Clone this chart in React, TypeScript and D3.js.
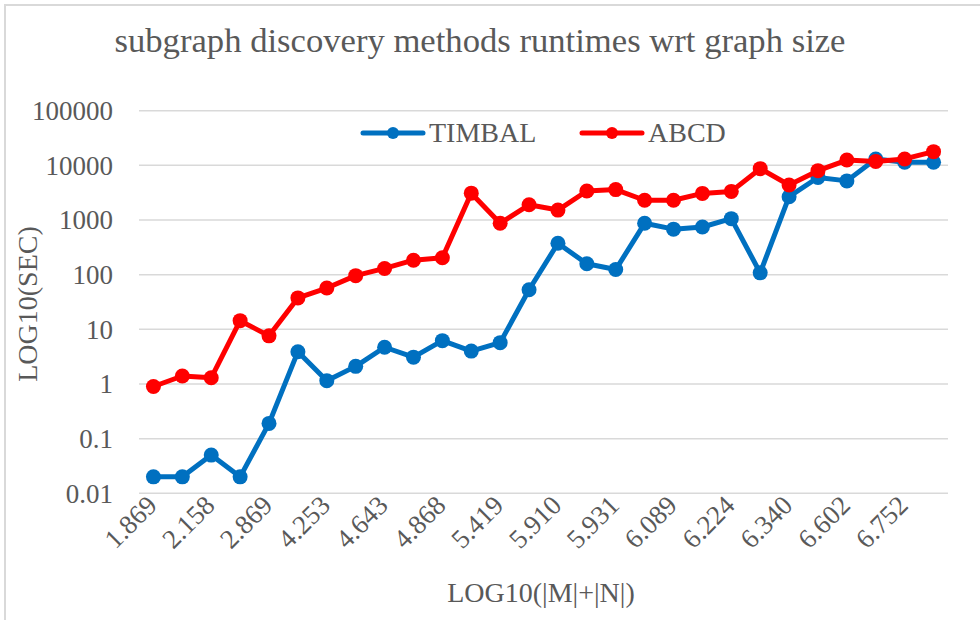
import React, { useEffect, useRef } from 'react';
import * as d3 from 'd3';

// tick labels visible on the x axis (every other category)
const xTickLabels = ['1.869', '2.158', '2.869', '4.253', '4.643', '4.868', '5.419',
  '5.910', '5.931', '6.089', '6.224', '6.340', '6.602', '6.752'];

// runtimes in seconds, one per graph (28 graphs)
const timbal = [0.02, 0.02, 0.05, 0.02, 0.19, 3.9, 1.15, 2.1, 4.7, 3.1, 6.2, 4.0, 5.7, 53,
  375, 158, 124, 870, 680, 745, 1060, 108, 2670, 6000, 5200, 13100, 11400, 11400];
const abcd = [0.9, 1.4, 1.3, 14.4, 7.6, 37.6, 57, 96, 130, 184, 204, 3100, 870, 1900,
  1520, 3390, 3600, 2300, 2300, 3070, 3340, 8700, 4370, 8000, 12500, 11800, 13100, 17800];

const yTicks = [0.01, 0.1, 1, 10, 100, 1000, 10000, 100000];

const seriesList = [
  { name: 'TIMBAL', values: timbal, color: '#0070C0' },
  { name: 'ABCD', values: abcd, color: '#FF0000' },
];

function App() {
  const ref = useRef<SVGSVGElement>(null);

  useEffect(() => {
    const width = 980, height = 620;
    const font = '"Liberation Serif", "Times New Roman", serif';
    const textColor = '#595959';
    const svg = d3.select(ref.current);
    svg.selectAll('*').remove();

    svg.append('rect').attr('width', width).attr('height', height).attr('fill', '#fff');
    // chart border (only top/left visible in crop)
    svg.append('rect').attr('x', 5).attr('y', 5).attr('width', 1200).attr('height', 1200)
      .attr('fill', 'none').attr('stroke', '#d9d9d9').attr('stroke-width', 2);

    const left = 139, right = 948, top = 110.7, bottom = 493.3;

    const n = timbal.length;
    const x = d3.scalePoint<number>().domain(d3.range(n)).range([left, right]).padding(0.5);
    const y = d3.scaleLog().domain([0.01, 100000]).range([bottom, top]);

    // title
    svg.append('text').attr('x', 480).attr('y', 52).attr('text-anchor', 'middle')
      .attr('font-family', font).attr('font-size', 34).attr('fill', textColor)
      .attr('textLength', 731).attr('lengthAdjust', 'spacingAndGlyphs')
      .text('subgraph discovery methods runtimes wrt graph size');

    // gridlines
    svg.append('g').selectAll('line').data(yTicks).enter().append('line')
      .attr('x1', left).attr('x2', right)
      .attr('y1', d => y(d)).attr('y2', d => y(d))
      .attr('stroke', '#d9d9d9').attr('stroke-width', 1.5);

    // y tick labels
    svg.append('g').selectAll('text').data(yTicks).enter().append('text')
      .attr('x', 113).attr('y', d => y(d)).attr('dy', '0.35em')
      .attr('text-anchor', 'end').attr('font-family', font).attr('font-size', 27)
      .attr('fill', textColor).text(d => String(d));

    // x tick labels
    svg.append('g').selectAll('text').data(xTickLabels).enter().append('text')
      .attr('transform', (d, i) => `translate(${(x(i * 2) as number) + 5},${507}) rotate(-45)`)
      .attr('text-anchor', 'end').attr('font-family', font).attr('font-size', 27)
      .attr('fill', textColor).text(d => d);

    // axis titles
    svg.append('text').attr('x', 541).attr('y', 602).attr('text-anchor', 'middle')
      .attr('font-family', font).attr('font-size', 28).attr('fill', textColor)
      .text('LOG10(|M|+|N|)');
    svg.append('text').attr('transform', 'translate(37,304) rotate(-90)')
      .attr('text-anchor', 'middle').attr('font-family', font).attr('font-size', 28)
      .attr('fill', textColor).text('LOG10(SEC)');

    // lines + markers
    const line = d3.line<number>().x((d, i) => x(i) as number).y(d => y(d));
    seriesList.forEach(s => {
      const g = svg.append('g');
      g.append('path').datum(s.values).attr('d', line).attr('fill', 'none')
        .attr('stroke', s.color).attr('stroke-width', 5).attr('stroke-linejoin', 'round');
      g.selectAll('circle').data(s.values).enter().append('circle')
        .attr('cx', (d, i) => x(i) as number).attr('cy', d => y(d)).attr('r', 7.5)
        .attr('fill', s.color);
    });

    // legend
    const legendPos = [363, 582];
    seriesList.forEach((s, i) => {
      const lx = legendPos[i], ly = 133;
      svg.append('line').attr('x1', lx).attr('x2', lx + 60).attr('y1', ly).attr('y2', ly)
        .attr('stroke', s.color).attr('stroke-width', 5).attr('stroke-linecap', 'round');
      svg.append('circle').attr('cx', lx + 30).attr('cy', ly).attr('r', 6).attr('fill', s.color);
      svg.append('text').attr('x', lx + 66).attr('y', ly + 9).attr('font-family', font)
        .attr('font-size', 28).attr('fill', textColor).text(s.name);
    });
  }, []);

  return <svg ref={ref} width={980} height={620} style={{ position: 'absolute', left: 0, top: 0 }} />;
}

export default App;
